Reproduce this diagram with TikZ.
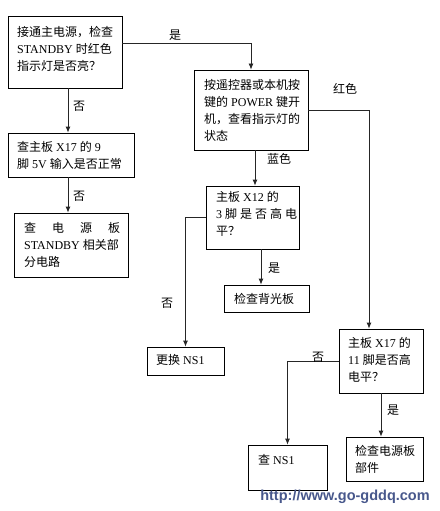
\documentclass[tikz,border=0pt]{standalone}
\usepackage{fontspec}
\setmainfont{Liberation Serif}
\newfontfamily\cjk{Noto Sans CJK SC}
\newfontfamily\urlfont{Liberation Sans}
\usetikzlibrary{arrows.meta,fit}
\definecolor{urlblue}{RGB}{72,88,140}
\tikzset{
  box/.style={draw=black, line width=0.8pt, inner sep=0pt},
  txt/.style={anchor=north west, inner sep=0pt, align=left, font=\fontsize{12}{17}\selectfont},
  lbl/.style={inner sep=0pt, font=\fontsize{12}{14}\selectfont\cjk},
  arr/.style={draw=black!85, line width=0.8pt, -{Latex[length=6pt,width=5pt]}},
  ln/.style={draw=black!85, line width=0.8pt}
}
\begin{document}
\begin{tikzpicture}[x=1pt,y=-1pt]
\useasboundingbox (0,0) rectangle (439,511);
\fill[white] (0,0) rectangle (439,511);
% boxes
\node[box, fit={(8,16) (122,88)}] (b1) {};
\node[box, fit={(194,70) (308,150)}] (b2) {};
\node[box, fit={(8,133) (134,177)}] (b3) {};
\node[box, fit={(14,213) (128,277)}] (b4) {};
\node[box, fit={(206,186) (299,249)}] (b5) {};
\node[box, fit={(224,285) (309,312)}] (b6) {};
\node[box, fit={(147,347) (224,375)}] (b7) {};
\node[box, fit={(339,329) (423,393)}] (b8) {};
\node[box, fit={(248,445) (327,490)}] (b9) {};
\node[box, fit={(346,437) (423,481)}] (b10) {};
% texts
\node[txt] (t1) at (17,26) {{\cjk 接通主电源，检查}\\STANDBY {\cjk 时红色}\\{\cjk 指示灯是否亮？}};
\node[txt] (t2) at (204,79) {{\cjk 按遥控器或本机按}\\{\cjk 键的} POWER {\cjk 键开}\\{\cjk 机，查看指示灯的}\\{\cjk 状态}};
\node[txt] (t3) at (17,141) {{\cjk 查主板} X17 {\cjk 的} 9\\{\cjk 脚} 5V {\cjk 输入是否正常}};
\node[txt] (t4) at (24,222) {\makebox[96pt][s]{\cjk 查\hfil 电\hfil 源\hfil 板}\\STANDBY {\cjk 相关部}\\{\cjk 分电路}};
\node[txt] (t5) at (216,191) {{\cjk 主板} X12 {\cjk 的}\\\makebox[81pt][s]{3\hfil{\cjk 脚}\hfil{\cjk 是}\hfil{\cjk 否}\hfil{\cjk 高}\hfil{\cjk 电}}\\{\cjk 平？}};
\node[txt] (t6) at (234,293) {{\cjk 检查背光板}};
\node[txt] (t7) at (156,354) {{\cjk 更换} NS1};
\node[txt] (t8) at (348,337) {{\cjk 主板} X17 {\cjk 的}\\11 {\cjk 脚是否高}\\{\cjk 电平？}};
\node[txt] (t9) at (258,454) {{\cjk 查} NS1};
\node[txt] (t10) at (355,445) {{\cjk 检查电源板}\\{\cjk 部件}};
% connector helpers
\coordinate (x68) at (68,0);
\coordinate (x255) at (255,0);
\coordinate (x261) at (261,0);
\coordinate (x369) at (369,0);
\coordinate (y43) at (0,43);
% connectors
\draw[arr] (b1.east |- y43) -| (b2.north);
\draw[arr] (b1.south -| x68) -- (b3.north -| x68);
\draw[arr] (b3.south -| x68) -- (b4.north -| x68);
\draw[arr] (b2.south -| x255) -- (b5.north -| x255);
\draw[arr] (b2.east) -| (x369 |- b8.north);
\draw[arr] (b5.west) -| (b7.north);
\draw[arr] (b5.south -| x261) -- (b6.north -| x261);
\draw[arr] (b8.west) -| (b9.north);
\draw[arr] (b8.south) -- (b8.south |- b10.north);
% labels
\node[lbl] (l1) at (175,35) {是};
\node[lbl] (l2) at (79,106) {否};
\node[lbl] (l3) at (79,196) {否};
\node[lbl] (l4) at (345,89) {红色};
\node[lbl] (l5) at (279,159) {蓝色};
\node[lbl] (l6) at (274,268) {是};
\node[lbl] (l7) at (167,303) {否};
\node[lbl] (l8) at (318,357) {否};
\node[lbl] (l9) at (393,410) {是};
% url
\node[inner sep=0pt, text=urlblue, font=\urlfont\bfseries\fontsize{14.5}{16}\selectfont] (url) at (345,497) {http://www.go-gddq.com};
\end{tikzpicture}
\end{document}
